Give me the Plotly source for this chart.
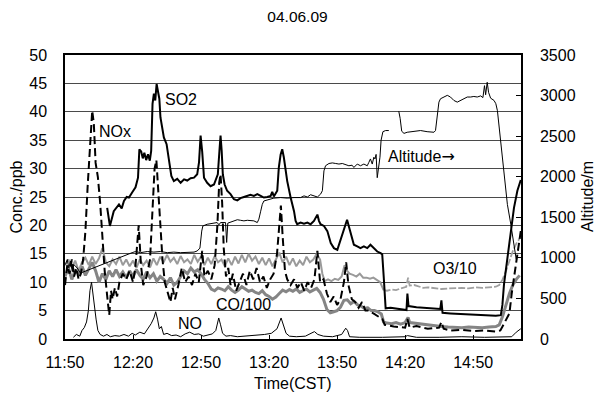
import plotly.graph_objects as go

# Flight of 04.06.09, time axis in minutes after 11:50 CST
tick_minutes = [0, 30, 60, 90, 120, 150, 180]
tick_labels = ["11:50", "12:20", "12:50", "13:20", "13:50", "14:20", "14:50"]

# SO2 (ppb)
so2_min = [18.6, 19.8, 21.5, 23.0, 23.8, 25.0, 26.0, 27.2, 28.2, 29.6, 31.1, 32.2, 32.8, 33.6, 34.3, 35.0,
           35.8, 36.6, 37.4, 38.0, 38.6, 39.2, 39.8, 40.4, 41.0, 41.6, 42.1, 42.9, 43.6, 44.8, 45.4, 46.3,
           46.9, 48.0, 49.5, 51.0, 52.5, 53.9, 55.4, 56.9, 58.3, 59.1, 59.8, 60.5, 61.3, 62.7, 64.2, 65.7,
           66.4, 67.4, 68.1, 68.6, 69.1, 69.6, 70.4, 71.5, 73.0, 73.7, 74.5, 76.0, 77.4, 78.9, 80.4, 81.8,
           83.3, 84.8, 86.3, 87.7, 89.2, 90.7, 91.4, 92.1, 93.6, 94.3, 95.1, 95.8, 96.5, 97.3, 98.0, 99.5,
           101.0, 101.7, 102.4, 103.9, 105.4, 106.9, 108.3, 109.8, 111.3, 112.0, 112.7, 114.2, 115.7, 117.2,
           118.6, 120.1, 121.6, 123.0, 124.4, 125.2, 125.9, 126.6, 127.4, 128.9, 130.3, 131.8, 133.3, 134.7,
           136.2, 137.7, 139.2, 139.9, 140.6, 141.4, 143.6, 146.0, 148.5, 150.6, 151.0, 151.5, 155.0, 160.0,
           165.5, 166.0, 166.5, 170.0, 175.0, 180.0, 185.0, 190.0, 192.2, 192.9, 193.6, 195.1, 196.6, 198.0,
           199.5, 201.0]
so2_ppb = [23.1, 19.9, 22.5, 23.2, 23.7, 23.0, 24.3, 25.0, 24.9, 25.8, 26.7, 28.4, 33.4, 33.0, 31.8, 32.8,
           31.5, 32.5, 31.4, 33.1, 41.4, 43.2, 42.0, 44.9, 43.8, 42.3, 39.0, 36.7, 35.5, 34.3, 32.5, 29.6,
           28.7, 27.8, 28.2, 27.5, 28.1, 27.9, 28.3, 28.4, 29.0, 31.1, 35.8, 33.0, 28.4, 27.5, 26.9, 27.2,
           28.1, 29.0, 33.1, 35.8, 33.1, 29.0, 27.2, 26.1, 25.5, 25.0, 24.6, 24.4, 24.8, 25.0, 25.2, 25.4,
           25.2, 25.5, 25.2, 24.9, 25.0, 25.2, 25.9, 25.1, 26.1, 30.2, 32.5, 33.4, 32.0, 29.6, 27.8, 24.9,
           22.5, 20.8, 20.2, 20.5, 20.3, 20.5, 20.2, 20.8, 21.9, 20.8, 20.2, 19.9, 19.0, 16.9,
           16.0, 15.7, 17.5, 19.5, 21.0, 19.8, 18.7, 17.8, 16.6, 16.3, 16.0, 16.3, 16.0, 16.6,
           16.0, 15.4, 15.1, 14.9, 10.7, 5.4, 5.5, 5.4, 5.3, 5.1, 8.0, 5.8, 5.6, 5.5,
           5.3, 6.8, 4.6, 4.5, 4.4, 4.3, 4.2, 4.1, 4.2, 6.0, 9.6, 14.3, 19.6, 23.1,
           26.1, 28.0]

# NOx (ppb)
nox_min = [0, 1, 2, 3, 4, 5, 6, 7, 8, 9, 10, 11, 12, 12.7, 13.5, 14.5, 15.5, 16.5, 17.5, 18.5, 19.5, 20.3,
           21.0, 22.0, 23.0, 24.0, 25.5, 27.0, 28.5, 30.0, 31.0, 32.5, 33.5, 34.5, 36.0, 37.5, 38.5, 39.5,
           40.3, 41.0, 42.0, 43.0, 44.0, 45.0, 46.5, 47.5, 48.5, 50.0, 51.5, 53.0, 54.5, 56.0, 57.5, 59.0,
           60.5, 61.5, 63.0, 64.5, 66.0, 67.2, 68.0, 68.6, 69.3, 70.0, 71.0, 72.0, 73.0, 74.0, 75.5, 77.0,
           78.5, 80.0, 81.5, 83.0, 84.5, 86.0, 87.5, 89.0, 90.5, 92.0, 93.5, 94.5, 95.2, 96.0, 97.0, 98.0,
           99.5, 101.0, 102.5, 104.0, 105.5, 107.0, 108.5, 110.0, 111.3, 112.5, 114.0, 115.5, 117.0, 118.5,
           120.0, 121.5, 123.0, 124.0, 125.0, 126.5, 128.0, 129.5, 131.0, 132.5, 134.0, 136.0, 138.0, 140.0,
           141.0, 145.0, 150.0, 151.0, 152.0, 155.0, 160.0, 165.0, 166.0, 167.0, 170.0, 175.0, 180.0, 185.0,
           190.0, 192.0, 194.0, 196.0, 197.0, 198.0, 199.0, 200.0, 201.0]
nox_ppb = [9.5, 13.0, 11.5, 14.0, 11.0, 12.5, 10.5, 11.5, 14.0, 19.0, 27.0, 34.0, 40.2, 38.0, 31.0, 28.5, 24.0,
           18.0, 12.0, 8.0, 4.2, 8.5, 7.0, 9.0, 7.5, 10.0, 11.5, 10.5, 12.0, 10.0, 12.5, 20.0, 13.0, 9.5,
           11.0, 14.0, 22.0, 30.0, 31.5, 27.0, 20.0, 14.0, 10.0, 8.5, 6.5, 9.0, 7.0, 9.5, 12.5, 10.0, 11.0,
           9.5, 11.5, 10.0, 15.5, 11.0, 12.0, 10.5, 13.0, 20.0, 27.5, 29.0, 24.0, 16.0, 11.0, 12.5, 9.5,
           11.5, 8.5, 10.0, 11.5, 9.5, 12.0, 10.5, 12.5, 10.0, 11.0, 9.0, 10.5, 11.5, 15.0, 20.0, 23.5,
           18.0, 12.0, 10.5, 9.5, 10.5, 9.0, 10.0, 8.5, 10.0, 9.0, 10.5, 15.5, 10.0, 10.5, 8.0, 6.5, 7.5,
           6.0, 7.0, 10.0, 13.5, 9.5, 7.0, 6.5, 5.5, 6.5, 5.0, 5.0, 4.5, 4.0, 3.5, 2.5, 2.2, 2.0, 3.5, 2.0,
           2.3, 1.8, 2.0, 3.0, 1.8, 1.5, 1.6, 1.4, 1.5, 1.3, 1.5, 3.0, 4.5, 8.0, 11.0, 14.0, 17.0, 19.0]

# NO (ppb)
no_min = [3.7, 5.0, 6.5, 7.5, 8.5, 9.5, 10.3, 11.0, 11.7, 12.3, 13.0, 13.7, 14.5, 15.5, 17.0, 18.5, 20.0,
          22.0, 24.0, 26.0, 28.0, 29.6, 31.0, 33.0, 35.0, 36.5, 38.0, 39.2, 40.0, 40.8, 41.6, 42.5, 43.5,
          45.0, 47.0, 49.0, 51.0, 53.0, 55.0, 57.0, 59.0, 61.0, 63.0, 65.0, 66.5, 67.8, 68.6, 69.5, 71.0,
          73.0, 76.0, 80.0, 84.0, 88.0, 91.0, 93.5, 95.3, 96.5, 97.5, 99.0, 102.0, 106.0, 110.0, 111.5,
          114.0, 118.0, 122.0, 123.8, 124.6, 125.5, 130.0, 140.0, 150.0, 151.0, 155.0, 165.0, 175.0, 185.0,
          195.0, 197.0, 199.0, 201.0]
no_ppb = [0.3, 0.8, 0.5, 1.5, 2.0, 3.0, 5.0, 8.5, 10.0, 8.0, 5.0, 3.5, 1.5, 0.8, 0.5, 0.8, 0.4,
          0.6, 0.5, 0.8, 0.5, 1.0, 0.7, 1.2, 0.9, 1.8, 2.7, 3.7, 4.8, 3.5, 1.8, 2.2, 0.8,
          1.0, 0.6, 0.7, 0.4, 0.9, 1.2, 0.8, 0.9, 0.5, 0.7, 0.9, 1.5, 3.7, 2.5, 1.0, 0.5,
          0.6, 0.4, 0.5, 0.7, 0.8, 1.0, 1.8, 3.7, 2.0, 1.0, 0.5, 0.4, 0.5, 1.3, 0.8,
          0.5, 0.4, 0.8, 1.9, 1.5, 0.4, 0.3, 0.3, 0.4, 0.6, 0.3, 0.3, 0.4, 0.3,
          0.3, 0.4, 1.2, 1.8]

# O3/10 (ppb/10), first part of the flight
o3_min = [0, 1.5, 3.0, 4.5, 6.0, 7.5, 9.0, 10.5, 12.0, 13.5, 15.0, 16.5, 18.0, 19.5, 21.0, 22.5, 24.0, 25.5,
          27.0, 28.5, 30.0, 31.5, 33.0, 34.5, 36.0, 37.5, 39.0, 40.5, 42.0, 43.5, 45.0, 46.5, 48.0, 49.5,
          51.0, 52.5, 54.0, 55.5, 57.0, 58.5, 60.0, 61.5, 63.0, 64.5, 66.0, 67.5, 69.0, 70.5, 72.0, 73.5,
          75.0, 76.5, 78.0, 79.5, 81.0, 82.5, 84.0, 85.5, 87.0, 88.5, 90.0, 91.5, 93.0, 94.5, 96.0, 97.5,
          99.0, 100.5, 102.0, 103.5, 105.0, 106.5, 108.0, 109.5, 111.0, 112.5, 113.5, 114.5, 116.0, 117.5,
          119.0, 120.5, 122.0, 123.3, 124.0, 125.5, 127.0, 128.5, 130.0, 131.5, 133.0, 134.5, 136.0, 137.5,
          139.0, 140.5]
o3_ppb10 = [13.0, 14.0, 12.5, 13.8, 12.0, 13.5, 14.3, 13.0, 14.5, 13.2, 14.2, 16.0, 13.5, 12.8, 14.0, 13.2,
            14.5, 13.0, 14.0, 12.8, 13.8, 12.5, 14.0, 13.0, 13.8, 12.6, 14.2, 13.0, 14.5, 13.5, 14.8, 13.6,
            14.3, 13.2, 14.6, 13.5, 14.0, 13.2, 14.8, 13.6, 14.5, 13.0, 14.3, 13.2, 14.6, 13.5, 14.0, 12.8,
            14.2, 13.0, 14.5, 13.3, 14.8, 13.5, 15.0, 13.8, 14.5, 13.2, 14.3, 13.0, 14.2, 12.8, 14.0, 15.2,
            13.5, 14.5, 13.0, 14.2, 12.8, 13.8, 13.0, 14.5, 13.5, 14.0, 15.0, 14.0, 11.5, 10.2, 10.5, 10.2,
            10.6, 10.4, 11.0, 13.0, 12.2, 11.5, 11.3, 11.0, 11.5, 10.8, 10.8, 10.6, 10.8, 10.4,
            10.0, 8.6]
# O3/10, second part (sparser record)
o3b_min = [140.5, 142.0, 144.0, 146.0, 148.0, 150.5, 151.3, 152.0, 154.0, 156.0, 158.0, 160.0, 163.0,
           166.0, 169.0, 172.0, 175.0, 178.0, 181.0, 184.0, 187.0, 190.0, 191.5, 193.0, 194.5, 196.0, 197.5,
           199.0, 200.5, 201.0]
o3b_ppb10 = [8.6, 8.5, 8.7, 8.6, 8.9, 9.2, 10.8, 9.4, 9.5, 9.2, 9.0, 9.1, 8.9,
             8.8, 8.9, 9.0, 9.0, 8.9, 9.1, 9.0, 9.1, 9.2, 9.5, 10.5, 12.0, 13.8, 15.5,
             16.8, 17.6, 18.0]

# CO/100 (ppb/100)
co_min = [0, 1.5, 3.0, 4.5, 6.0, 7.5, 9.0, 10.5, 12.0, 13.5, 15.0, 16.5, 18.0, 19.5, 21.0, 22.5, 24.0, 25.5,
          27.0, 28.5, 30.0, 31.5, 33.0, 34.5, 36.0, 37.5, 39.0, 40.5, 42.0, 43.5, 45.0, 46.5, 48.0, 49.5,
          51.0, 52.5, 54.0, 55.5, 57.0, 58.5, 60.0, 61.5, 63.0, 64.5, 66.0, 67.5, 69.0, 70.5, 72.0, 73.5,
          75.0, 76.5, 78.0, 79.5, 81.0, 82.5, 84.0, 85.5, 87.0, 88.5, 90.0, 91.5, 93.0, 94.5, 96.0, 97.5,
          99.0, 100.5, 102.0, 103.5, 105.0, 106.5, 108.0, 109.5, 111.0, 112.5, 114.0, 115.5, 117.0, 118.5,
          120.0, 121.5, 123.0, 124.5, 126.0, 127.5, 129.0, 130.5, 132.0, 133.5, 135.0, 136.5, 138.0, 139.5,
          140.5, 142.0, 144.0, 146.0, 148.0, 150.0, 151.3, 152.0, 154.0, 156.0, 158.0, 160.0, 163.0, 166.0,
          169.0, 172.0, 175.0, 178.0, 181.0, 184.0, 187.0, 190.0, 191.5, 193.0, 194.5, 196.0, 197.5, 199.0,
          200.5]
co_ppb100 = [11.0, 12.5, 10.5, 12.0, 11.5, 12.8, 11.2, 12.5, 13.5, 12.0, 10.0, 11.5, 10.5, 12.0, 11.0, 12.2,
             11.0, 11.8, 10.8, 12.0, 11.0, 12.2, 11.2, 10.5, 11.8, 10.8, 11.5, 10.2, 11.0, 10.5, 9.8, 10.8,
             9.5, 10.0, 11.0, 12.0, 11.5, 12.5, 11.8, 12.2, 11.5, 10.5, 9.8, 8.8, 8.5, 9.0, 8.8, 8.5,
             9.2, 8.6, 8.2, 8.6, 9.2, 8.8, 8.4, 8.6, 8.2, 8.0, 8.5, 7.8, 7.5, 7.0, 7.4, 8.0, 8.6, 8.3,
             8.7, 8.4, 8.8, 8.2, 8.5, 8.8, 8.3, 8.6, 8.9, 8.2, 7.0, 5.2, 4.6, 4.8,
             5.0, 5.6, 6.8, 6.9, 6.2, 6.6, 6.0, 5.8, 5.4, 5.5, 5.0, 5.0, 4.8, 4.4,
             3.0, 2.8, 2.7, 2.9, 2.6, 2.9, 3.8, 2.9, 2.8, 2.6, 2.5, 2.4, 2.3, 2.2,
             2.1, 2.0, 2.0, 2.1, 2.0, 2.0, 2.1, 2.2, 2.5, 4.0, 6.0, 8.0, 9.5, 10.5,
             11.2]

# Flight altitude (m)
alt_min = [0.2, 1.0, 1.7, 2.4, 3.2, 3.9, 5.4, 6.8, 29.6, 31.1, 33.3, 36.3, 39.2, 42.1, 45.1, 48.0, 51.0,
           53.9, 56.9, 58.3, 59.5, 60.3, 60.8, 62.7, 64.2, 65.7, 67.1, 67.9, 68.6, 70.8, 71.3, 71.8, 73.0,
           74.5, 76.0, 77.4, 78.9, 80.4, 81.8, 83.3, 84.8, 85.5, 86.3, 87.0, 87.7, 89.2, 90.7, 92.1, 95.1,
           98.0, 101.0, 103.9, 105.4, 106.9, 108.3, 109.8, 111.3, 112.7, 113.5, 114.2, 114.9, 116.4, 117.9,
           119.4, 120.8, 122.3, 123.8, 125.2, 126.6, 127.4, 128.9, 130.3, 131.8, 133.3, 134.0, 134.7, 135.5,
           136.2, 136.7, 137.2, 137.7, 138.1, 138.9, 139.4, 140.2, 141.4, 142.8, 145.0, 147.2, 147.8, 148.5,
           149.5, 150.9, 153.9, 156.8, 159.7, 162.7, 163.4, 164.2, 164.9, 165.6, 167.1, 168.6, 170.0, 171.5,
           173.0, 174.5, 175.9, 177.4, 178.9, 180.3, 181.8, 183.3, 184.3, 185.0, 185.5, 186.2, 186.8, 187.7,
           189.2, 190.0, 190.7, 192.2, 193.6, 195.1, 196.6, 198.0, 199.0]
alt_m = [917, 980, 875, 959, 833, 917, 875, 812, 1064, 1078, 1064, 1078, 1071, 1078, 1064, 1071, 1064,
         1064, 1071, 1085, 1120, 1330, 1393, 1414, 1421, 1428, 1435, 1407, 1435, 1435, 1190, 1428, 1442,
         1456, 1470, 1463, 1456, 1463, 1456, 1456, 1435, 1477, 1575, 1659, 1701, 1715, 1722, 1736, 1743,
         1736, 1743, 1743, 1764, 1750, 1778, 1764, 1750, 1785, 1827, 2072, 2135, 2163, 2170,
         2163, 2156, 2163, 2149, 2135, 2142, 2114, 2156, 2135, 2156, 2135, 2177, 2219, 2156,
         2240, 2219, 2275, 1988, 2072, 2240, 2450, 2555, 2569, 2569, None, 2807, 2720, 2560,
         2534, 2548, 2562, 2569, 2555, 2548, 2569, 2730, 2919, 2961, 2982, 3003, 2982, 2940,
         2919, 2940, 2961, 2982, 2982, 2989, 2982, 2996, 2975, 3122, 3010, 3164, 3040, 2968,
         2940, 2900, 2814, 2401, 1988, 1659, 1414, 1150, 980]

FONT = "Liberation Sans, Arial, sans-serif"
TXT = dict(family=FONT, size=16, color="black")

fig = go.Figure()
fig.add_trace(go.Scatter(x=co_min, y=co_ppb100, mode="lines", name="CO/100",
                         line=dict(color="#858585", width=3)))
fig.add_trace(go.Scatter(x=o3_min, y=o3_ppb10, mode="lines", name="O3/10",
                         line=dict(color="#9a9a9a", width=2)))
fig.add_trace(go.Scatter(x=o3b_min, y=o3b_ppb10, mode="lines", name="O3/10 (late)",
                         line=dict(color="#a0a0a0", width=1.8, dash="7px,2px")))
fig.add_trace(go.Scatter(x=no_min, y=no_ppb, mode="lines", name="NO",
                         line=dict(color="black", width=1)))
fig.add_trace(go.Scatter(x=nox_min, y=nox_ppb, mode="lines", name="NOx",
                         line=dict(color="black", width=2, dash="8px,4px")))
fig.add_trace(go.Scatter(x=so2_min, y=so2_ppb, mode="lines", name="SO2",
                         line=dict(color="black", width=2)))
fig.add_trace(go.Scatter(x=alt_min, y=alt_m, mode="lines", name="Altitude", yaxis="y2",
                         connectgaps=False, line=dict(color="black", width=1)))

labels = [("NOx", 14.3, 36.6), ("SO2", 43.0, 42.1),
          ("Altitude<span style='font-family:DejaVu Sans'>\u2192</span>", 141.4, 32.2),
          ("O3/10", 161.3, 12.5), ("CO/100", 65.5, 6.0), ("NO", 48.8, 2.8)]
annotations = [dict(x=x, y=y, xref="x", yref="y", text=t, showarrow=False, xanchor="left",
                    yanchor="middle", font=TXT)
               for t, x, y in labels]
annotations += [
    dict(x=0, y=0.5, xref="paper", yref="paper", text="Conc./ppb", textangle=-90, showarrow=False,
         xanchor="center", yanchor="middle", xshift=-49.5, font=TXT),
    dict(x=1, y=0.5, xref="paper", yref="paper", text="Altitude/m", textangle=-90, showarrow=False,
         xanchor="center", yanchor="middle", xshift=66, font=TXT),
    dict(x=0.5, y=0, xref="paper", yref="paper", text="Time(CST)", showarrow=False,
         xanchor="center", yanchor="middle", yshift=-44, font=TXT),
]

fig.update_layout(
    width=595, height=403,
    margin=dict(l=65, r=74, t=55, b=64),
    paper_bgcolor="white", plot_bgcolor="white",
    showlegend=False,
    font=TXT,
    title=dict(text="04.06.09", x=0.5, xref="container", xanchor="center",
               y=1 - 17 / 403, yref="container", yanchor="middle",
               font=dict(family=FONT, size=15.5, color="black")),
    xaxis=dict(range=[0, 201.1], tickmode="array", tickvals=tick_minutes, ticktext=tick_labels,
               showgrid=False, zeroline=False, showline=True, linecolor="black", linewidth=1.5,
               mirror=True, ticks="inside", ticklen=4, tickcolor="black",
               tickfont=TXT, ticklabelstandoff=8),
    yaxis=dict(range=[0, 50], dtick=5, tick0=0, showgrid=True, gridcolor="#4a4a4a", gridwidth=1,
               zeroline=False, showline=True, linecolor="black", linewidth=1.5,
               ticks="", tickfont=TXT, ticklabelstandoff=13),
    yaxis2=dict(range=[0, 3500], dtick=500, tick0=0, overlaying="y", side="right", showgrid=False,
                zeroline=False, showline=True, linecolor="black", linewidth=1.5,
                ticks="inside", ticklen=5, tickcolor="black",
                tickfont=TXT, ticklabelstandoff=14),
    annotations=annotations,
)

fig.write_html("out.html")
